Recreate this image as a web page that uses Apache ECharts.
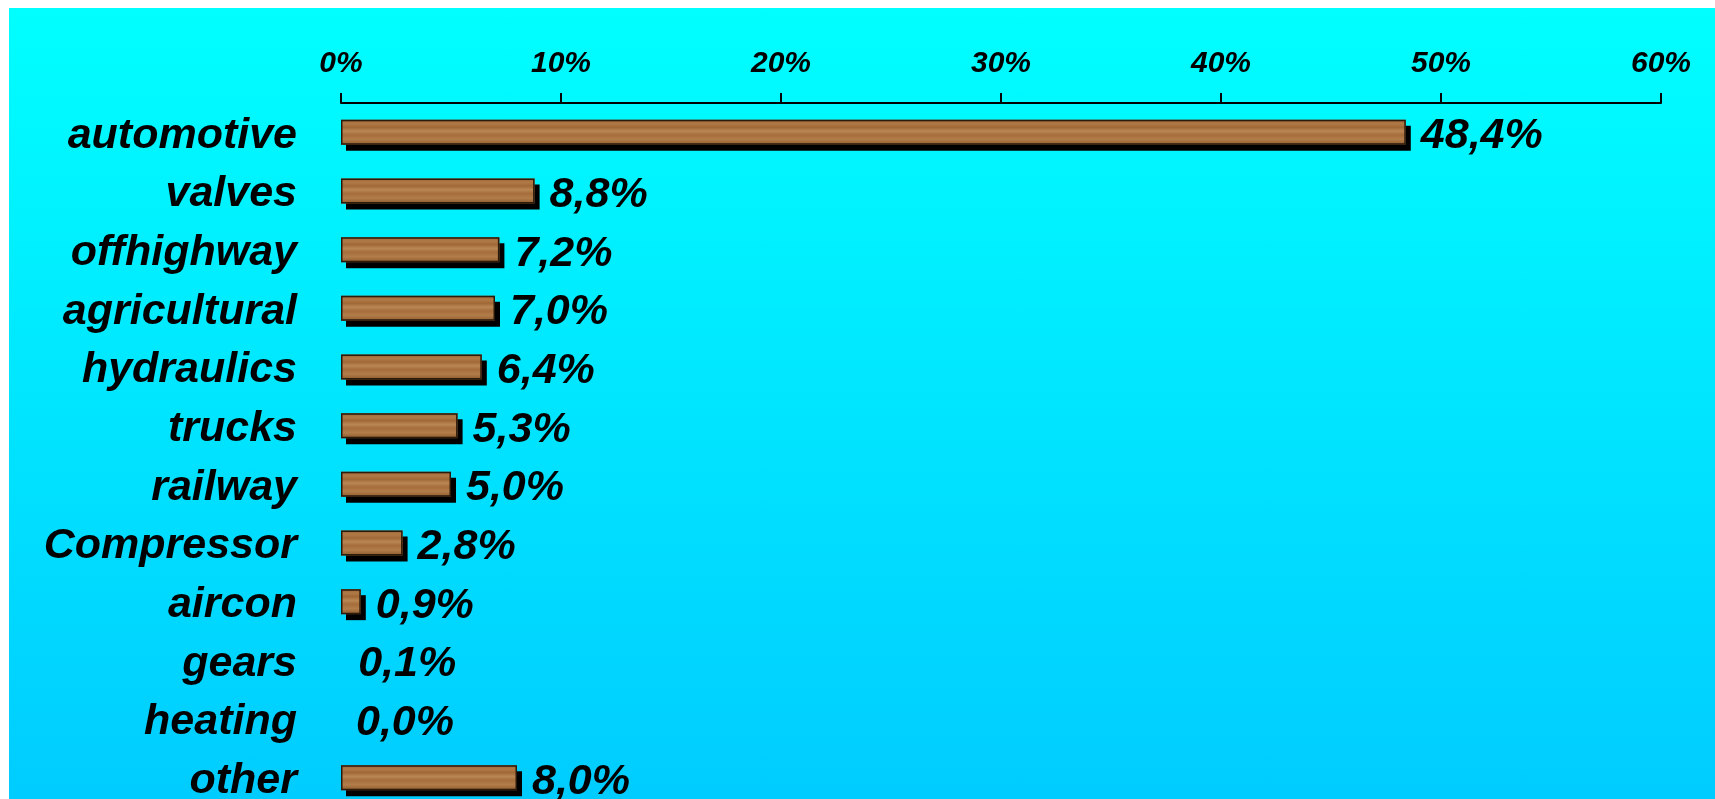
<!DOCTYPE html>
<html>
<head>
<meta charset="utf-8">
<script src="https://cdn.jsdelivr.net/npm/echarts@6/dist/echarts.min.js"></script>
<style>
  html, body { margin: 0; padding: 0; background: #ffffff; }
  #chart {
    position: absolute; left: 9px; top: 8px; width: 1706px; height: 791px;
    background: linear-gradient(to bottom, #00FFFF 0%, #00CCFF 100%);
  }
</style>
</head>
<body>
<div id="chart"></div>
<script>
const categories = ['automotive', 'valves', 'offhighway', 'agricultural', 'hydraulics', 'trucks', 'railway', 'Compressor', 'aircon', 'gears', 'heating', 'other'];
const shares = [48.4, 8.8, 7.2, 7.0, 6.4, 5.3, 5.0, 2.8, 0.9, 0.1, 0.0, 8.0];
const axisMax = 60;
const axisStep = 10;

const wood = {
  type: 'linear', x: 0, y: 0, x2: 0, y2: 1,
  colorStops: [
    { offset: 0, color: '#9A6334' },
    { offset: 0.15, color: '#B07A47' },
    { offset: 0.3, color: '#A06836' },
    { offset: 0.45, color: '#BA8753' },
    { offset: 0.6, color: '#A56D3B' },
    { offset: 0.78, color: '#B27D4A' },
    { offset: 1, color: '#8F5B2D' }
  ]
};

const hidden = { color: 'transparent', borderWidth: 0, shadowColor: 'transparent' };
const fillData = shares.map(v => v < 0.5 ? { value: v, itemStyle: hidden } : { value: v });
const edgeData = shares.map(v => v < 0.5 ? { value: v, itemStyle: hidden } : { value: v });

const font = '"Liberation Sans", Arial, sans-serif';
const chart = echarts.init(document.getElementById('chart'), null, { renderer: 'canvas' });
chart.setOption({
  backgroundColor: 'transparent',
  animation: false,
  grid: { left: 332, top: 95, width: 1320, height: 704, containLabel: false, outerBoundsMode: 'none' },
  xAxis: {
    type: 'value', position: 'top', min: 0, max: axisMax, interval: axisStep,
    axisLine: { show: true, lineStyle: { color: '#000', width: 2 } },
    axisTick: { show: true, inside: false, length: 10, lineStyle: { color: '#000', width: 2 } },
    splitLine: { show: false },
    axisLabel: {
      margin: 24, color: '#000', fontSize: 30, fontWeight: 'bold', fontStyle: 'italic', fontFamily: font,
      formatter: v => v + '%'
    }
  },
  yAxis: {
    type: 'category', data: categories, inverse: true,
    axisLine: { show: false }, axisTick: { show: false }, splitLine: { show: false },
    axisLabel: {
      margin: 44,
      formatter: v => '{c|' + v + '}',
      rich: {
        c: { color: '#000', fontSize: 43, fontWeight: 'bold', fontStyle: 'italic', fontFamily: font, padding: [7, 0, 0, 0] }
      }
    }
  },
  series: [{
    type: 'bar', data: fillData, barWidth: 25, barGap: '-100%',
    itemStyle: {
      color: wood, borderWidth: 0,
      shadowColor: '#000', shadowBlur: 0, shadowOffsetX: 5, shadowOffsetY: 6
    },
    label: {
      show: true, position: 'right', distance: 15, color: '#000', offset: [0, 4],
      fontSize: 43, fontWeight: 'bold', fontStyle: 'italic', fontFamily: font,
      formatter: p => p.value.toFixed(1).replace('.', ',') + '%'
    }
  }, {
    type: 'bar', data: edgeData, barWidth: 25, barGap: '-100%', silent: true,
    itemStyle: { color: 'transparent', borderColor: '#2a1a0c', borderWidth: 1.5 },
    label: { show: false }
  }]
});
</script>
</body>
</html>
